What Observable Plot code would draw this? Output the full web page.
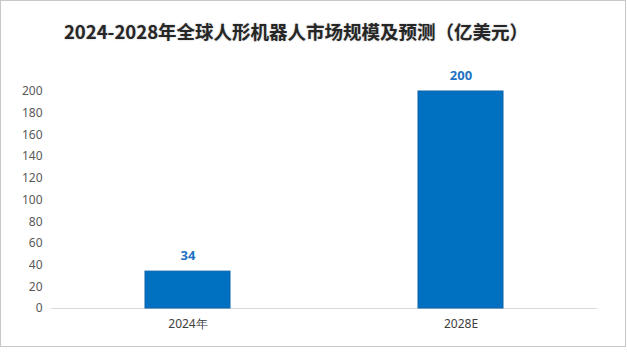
<!DOCTYPE html>
<html><head><meta charset="utf-8">
<script src="https://cdn.jsdelivr.net/npm/d3@7"></script>
<script src="https://cdn.jsdelivr.net/npm/@observablehq/plot@0.6"></script>
<style>
html,body{margin:0;padding:0;background:#fff;}
#wrap{position:relative;width:627px;height:356px;overflow:hidden;background:#fff;}
#frame{position:absolute;left:0;top:0;width:624px;height:345px;border:1px solid #c8c8c8;box-sizing:content-box;}
#title{position:absolute;left:0;width:592px;text-align:center;top:19px;font-family:"Noto Sans CJK SC","Noto Sans",sans-serif;font-weight:bold;font-size:18.5px;color:#262626;white-space:nowrap;text-shadow:0 0 2px rgba(0,0,0,0.3);line-height:24px;}
#chart{position:absolute;left:0;top:0;}
</style></head>
<body>
<div id="wrap"><div id="frame"></div><div id="title">2024-2028年全球人形机器人市场规模及预测（亿美元）</div><div id="chart"></div></div>
<script>
const categories = ["2024年", "2028E"];
const values = [34, 200];
const yTicks = [0, 20, 40, 60, 80, 100, 120, 140, 160, 180, 200];

const data = categories.map((c, i) => ({cat: c, v: values[i]}));

const chart = Plot.plot({
  width: 627,
  height: 356,
  marginTop: 91,
  marginBottom: 48,
  marginLeft: 51,
  marginRight: 30,
  style: {fontFamily: "'Noto Sans', 'DejaVu Sans', sans-serif", fontSize: "12px", background: "transparent"},
  x: {domain: categories, paddingInner: 0.69, paddingOuter: 0.345, label: null, tickSize: 0, tickPadding: 11},
  y: {domain: [0, 200], ticks: yTicks, label: null, tickSize: 0, tickPadding: 9},
  marks: [
    Plot.axisY({ticks: yTicks, tickSize: 0, tickPadding: 9, label: null, fill: "#595959", fontSize: 12}),
    Plot.axisX({tickSize: 0, tickPadding: 11, label: null, fill: "#404040", fontSize: 12}),
    Plot.ruleY([0], {stroke: "#d9d9d9", strokeWidth: 1}),
    Plot.barY(data, {x: "cat", y: "v", fill: "#0070C0", stroke: "#0a62ad", strokeWidth: 1}),
    Plot.text(data, {x: "cat", y: "v", text: d => String(d.v), dy: -16, fill: "#1f72c2", fontWeight: "bold", fontSize: 13})
  ]
});
document.getElementById("chart").appendChild(chart);
</script>
</body></html>
